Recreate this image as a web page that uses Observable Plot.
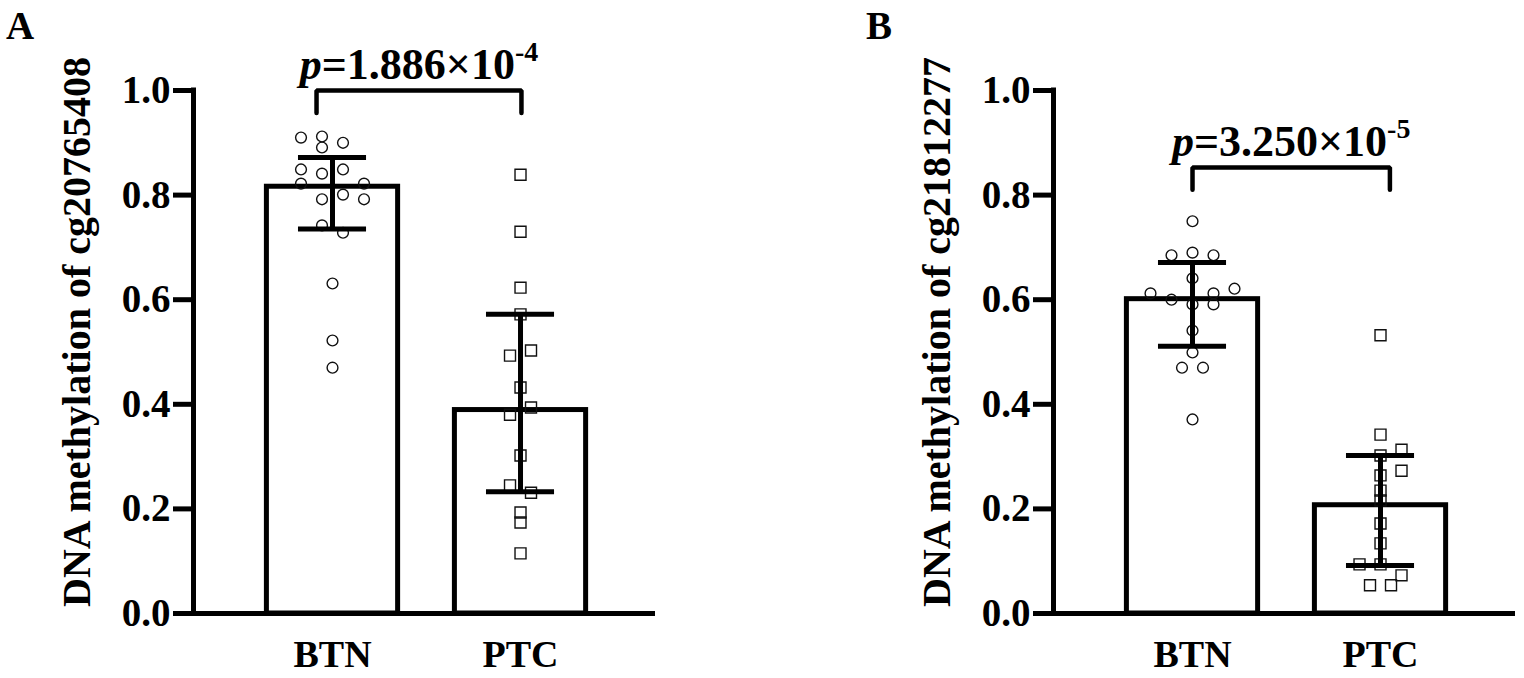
<!DOCTYPE html>
<html>
<head>
<meta charset="utf-8">
<script src="https://cdn.jsdelivr.net/npm/d3@7"></script>
<script src="https://cdn.jsdelivr.net/npm/@observablehq/plot@0.6"></script>
<style>
  html, body { margin: 0; padding: 0; background: #fff; }
  #wrap { position: relative; width: 1524px; height: 678px; overflow: hidden; font-family: "Liberation Serif", "Times New Roman", serif; }
  .panel { position: absolute; top: 0; z-index: 1; }
  .panel svg { font-family: "Liberation Serif", "Times New Roman", serif; font-weight: bold; }
  .letter { position: absolute; z-index: 2; font-family: "Liberation Serif", "Times New Roman", serif; font-weight: bold; font-size: 39px; line-height: 1; }
</style>
</head>
<body>
<div id="wrap">
  <div class="panel" id="panelA" style="left:0px;"></div>
  <div class="panel" id="panelB" style="left:860px;"></div>
  <div class="letter" style="left:6px;top:6px;">A</div>
  <div class="letter" style="left:866px;top:6px;">B</div>
</div>
<script>
// ---------- data ----------
const groups = ["BTN", "PTC"];
const yTicks = [0, 0.2, 0.4, 0.6, 0.8, 1.0];

// Panel A : cg20765408
const aLabel = "DNA methylation of cg20765408";
const aBtnValues = [0.910, 0.912, 0.891, 0.900, 0.849, 0.841, 0.849, 0.822, 0.822, 0.792, 0.801, 0.792, 0.742, 0.728, 0.631, 0.522, 0.470];
const aBtnSlots  = [-1.5, -0.5, -0.5, 0.5, -1.5, -0.5, 0.5, -1.5, 1.5, -0.5, 0.5, 1.5, -0.5, 0.5, 0, 0, 0];
const aPtcValues = [0.839, 0.730, 0.623, 0.572, 0.493, 0.503, 0.432, 0.380, 0.394, 0.302, 0.245, 0.231, 0.193, 0.174, 0.115];
const aPtcSlots  = [0, 0, 0, 0, -0.5, 0.5, 0, -0.5, 0.5, 0, -0.5, 0.5, 0, 0, 0];
const aMeans = [0.816, 0.389];
const aLower = [0.735, 0.233];
const aUpper = [0.872, 0.572];
const aPMantissa = "1.886";
const aPExponent = "-4";
const aBracketX = [0.915, 2.005];
const aBracketY = 1.0;
const aTextY = 1.022;

// Panel B : cg21812277
const bLabel = "DNA methylation of cg21812277";
const bBtnValues = [0.750, 0.685, 0.690, 0.685, 0.641, 0.612, 0.600, 0.591, 0.612, 0.591, 0.621, 0.541, 0.499, 0.470, 0.470, 0.371];
const bBtnSlots  = [0, -1, 0, 1, 0, -2, -1, 0, 1, 1, 2, 0, 0, -0.5, 0.5, 0];
const bPtcValues = [0.532, 0.342, 0.313, 0.302, 0.273, 0.264, 0.235, 0.216, 0.172, 0.134, 0.094, 0.094, 0.073, 0.054, 0.054];
const bPtcSlots  = [0, 0, 1, 0, 1, 0, 0, 0, 0, 0, -1, 0, 1, -0.5, 0.5];
const bMeans = [0.601, 0.207];
const bLower = [0.511, 0.092];
const bUpper = [0.671, 0.302];
const bPMantissa = "3.250";
const bPExponent = "-5";
const bBracketX = [1.0, 2.05];
const bBracketY = 0.853;
const bTextY = 0.875;

// ---------- drawing ----------
const slotW = 0.1117;     // jitter step in x units
const barHalf = 0.349;
const capHalf = 0.181;
const xDomain = [0.2606, 2.718];

function panel(o) {
  const pts = o.btnValues.map((v, i) => ({g: 1, x: 1 + o.btnSlots[i] * slotW, y: v}));
  const sq = o.ptcValues.map((v, i) => ({g: 2, x: 2 + o.ptcSlots[i] * slotW, y: v}));
  const bars = groups.map((name, i) => ({g: i + 1, name, mean: o.means[i], lo: o.lower[i], hi: o.upper[i]}));
  const drop = 0.043;
  const bracket = [
    {x: o.bracketX[0], y: o.bracketY - drop}, {x: o.bracketX[0], y: o.bracketY},
    {x: o.bracketX[1], y: o.bracketY}, {x: o.bracketX[1], y: o.bracketY - drop}
  ];
  const textX = (o.bracketX[0] + o.bracketX[1]) / 2;
  const svg = Plot.plot({
    width: o.width, height: 678,
    marginTop: 90, marginBottom: 65, marginLeft: 193, marginRight: o.marginRight,
    x: {domain: xDomain, axis: null},
    y: {domain: [0, 1], axis: null},
    style: {fontFamily: "'Liberation Serif','Times New Roman',serif", fontWeight: "bold", color: "black", background: "white", overflow: "visible"},
    marks: [
      Plot.rectY(bars, {x1: d => d.g - barHalf, x2: d => d.g + barHalf, y1: 0, y2: "mean", fill: "white", stroke: "black", strokeWidth: 5, strokeLinejoin: "miter"}),
      Plot.dot(pts, {x: "x", y: "y", symbol: "circle", r: 5.4, stroke: "#111", strokeWidth: 1.4, fill: "none"}),
      Plot.dot(sq, {x: "x", y: "y", symbol: "square", r: 6.2, stroke: "#111", strokeWidth: 1.4, fill: "none"}),
      Plot.ruleX(bars, {x: "g", y1: "lo", y2: "hi", stroke: "black", strokeWidth: 5}),
      Plot.ruleY(bars, {y: "hi", x1: d => d.g - capHalf, x2: d => d.g + capHalf, stroke: "black", strokeWidth: 5}),
      Plot.ruleY(bars, {y: "lo", x1: d => d.g - capHalf, x2: d => d.g + capHalf, stroke: "black", strokeWidth: 5}),
      Plot.line(bracket, {x: "x", y: "y", stroke: "black", strokeWidth: 4.5, strokeLinejoin: "miter", curve: "linear"}),
      Plot.text([o.pMantissa], {x: textX, y: o.textY, text: d => "p=" + d + "×10", lineAnchor: "bottom", fontSize: 44, fontWeight: "bold", fill: "black", className: "pval"}),
      // axes
      Plot.ruleY([0], {x1: xDomain[0], x2: xDomain[1], stroke: "black", strokeWidth: 5}),
      Plot.ruleX([xDomain[0]], {y1: 0, y2: 1, stroke: "black", strokeWidth: 5, strokeLinecap: "square"}),
      Plot.axisY({ticks: yTicks, tickSize: 20, tickPadding: 3, strokeWidth: 5, tickFormat: d => d.toFixed(1), fontSize: 39, fontWeight: "bold", label: null}),
      Plot.axisX({ticks: [1, 2], tickFormat: d => groups[d - 1], tickSize: 0, tickPadding: 27, fontSize: 38, fontWeight: "bold", label: null}),
      Plot.text([o.label], {frameAnchor: "left", textAnchor: "middle", rotate: -90, dx: -116, dy: -20, fontSize: 40, fontWeight: "bold", fill: "black"})
    ]
  });
  // rich formatting of p-value: italic p and superscript exponent
  svg.querySelectorAll(".pval text").forEach(t => {
    const ns = "http://www.w3.org/2000/svg";
    t.textContent = "";
    const p = document.createElementNS(ns, "tspan");
    p.setAttribute("font-style", "italic");
    p.textContent = "p";
    const m = document.createElementNS(ns, "tspan");
    m.textContent = "=" + o.pMantissa + "×10";
    const e = document.createElementNS(ns, "tspan");
    e.setAttribute("font-size", "28");
    e.setAttribute("dy", "-18");
    e.textContent = o.pExponent;
    t.append(p, m, e);
  });
  return svg;
}

document.getElementById("panelA").append(panel({
  label: aLabel, btnValues: aBtnValues, btnSlots: aBtnSlots, ptcValues: aPtcValues, ptcSlots: aPtcSlots,
  means: aMeans, lower: aLower, upper: aUpper, pMantissa: aPMantissa, pExponent: aPExponent,
  bracketX: aBracketX, bracketY: aBracketY, textY: aTextY, width: 660, marginRight: 5
}));
document.getElementById("panelB").append(panel({
  label: bLabel, btnValues: bBtnValues, btnSlots: bBtnSlots, ptcValues: bPtcValues, ptcSlots: bPtcSlots,
  means: bMeans, lower: bLower, upper: bUpper, pMantissa: bPMantissa, pExponent: bPExponent,
  bracketX: bBracketX, bracketY: bBracketY, textY: bTextY, width: 664, marginRight: 9
}));
</script>
</body>
</html>
